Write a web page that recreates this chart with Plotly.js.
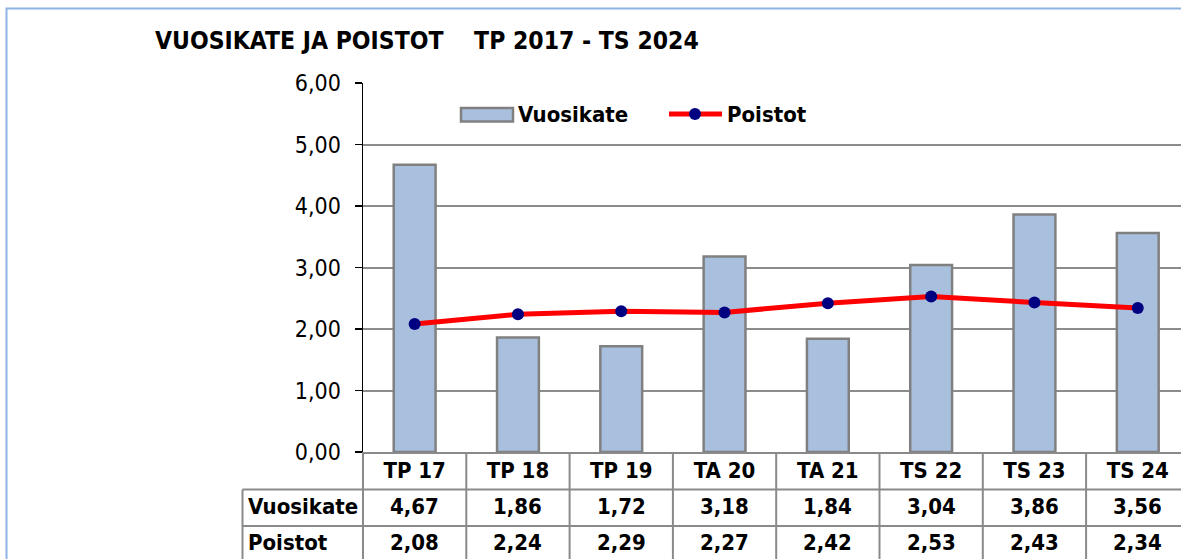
<!DOCTYPE html>
<html>
<head>
<meta charset="utf-8">
<script src="https://cdn.plot.ly/plotly-3.0.1.min.js"></script>
<style>
html,body{margin:0;padding:0;background:#fff;}
#chart{width:1181px;height:559px;}
</style>
</head>
<body>
<div id="chart"></div>
<script>
// ---- data ----
const categories = ['TP 17','TP 18','TP 19','TA 20','TA 21','TS 22','TS 23','TS 24'];
const vuosikate = [4.67, 1.86, 1.72, 3.18, 1.84, 3.04, 3.86, 3.56];
const poistot = [2.08, 2.24, 2.29, 2.27, 2.42, 2.53, 2.43, 2.34];
const seriesNames = ['Vuosikate', 'Poistot'];
const yTicks = [0, 1, 2, 3, 4, 5, 6];
const titleText = 'VUOSIKATE JA POISTOT\u00A0\u00A0\u00A0 TP 2017 - TS 2024';

// ---- layout constants (pixels) ----
const W = 1181, H = 559;
const ML = 363, MT = 83, MB = 107;
const plotW = W - ML, plotH = H - MT - MB;
const colW = 103.3;
const px2x = p => (p - ML) / plotW;          // page x -> paper x
const py2y = p => (H - MB - p) / plotH;      // page y -> paper y

const FONT = '"DejaVu Sans Condensed", "DejaVu Sans", sans-serif';
const fmt = v => v.toFixed(2).replace('.', ',');
const idx = categories.map((_, i) => i);

const gridGray = '#8c8c8c';
const tableGray = '#8a8a8a';

const traces = [
  {
    type: 'bar', name: seriesNames[0], x: idx, y: vuosikate, width: 0.405,
    marker: {color: '#a8c0de', line: {color: '#808080', width: 2.5}},
    showlegend: false, hoverinfo: 'skip'
  },
  {
    type: 'scatter', mode: 'lines+markers', name: seriesNames[1], x: idx, y: poistot,
    line: {color: '#ff0000', width: 5},
    marker: {color: '#000080', size: 12},
    showlegend: false, hoverinfo: 'skip', cliponaxis: false
  }
];

const shapes = [];
const annotations = [];

// outer frame
shapes.push({type: 'rect', xref: 'paper', yref: 'paper',
  x0: px2x(6.5), x1: px2x(W + 20), y0: py2y(H + 20), y1: py2y(8.5),
  line: {color: '#8db4e2', width: 2}, fillcolor: 'rgba(0,0,0,0)', layer: 'below'});

// table rows
const rowLines = [489.5, 526];
rowLines.forEach(p => shapes.push({type: 'line', xref: 'paper', yref: 'paper',
  x0: px2x(242.5), x1: 1.02, y0: py2y(p), y1: py2y(p), line: {color: tableGray, width: 2}}));
// label column left edge
shapes.push({type: 'line', xref: 'paper', yref: 'paper',
  x0: px2x(242.5), x1: px2x(242.5), y0: py2y(489.5), y1: py2y(H + 5), line: {color: tableGray, width: 2}});
// first column left edge (below axis)
shapes.push({type: 'line', xref: 'paper', yref: 'paper',
  x0: 0, x1: 0, y0: 0, y1: py2y(H + 5), line: {color: tableGray, width: 2}});
// column separators
for (let i = 1; i < categories.length; i++) {
  shapes.push({type: 'line', xref: 'x', yref: 'paper',
    x0: i - 0.5, x1: i - 0.5, y0: 0, y1: py2y(H + 5), line: {color: tableGray, width: 2}});
}

// table values
const rowCenters = [506.5, 542];
const rowData = [vuosikate, poistot];
rowData.forEach((arr, r) => {
  annotations.push({xref: 'paper', yref: 'paper', x: px2x(246), y: py2y(rowCenters[r]),
    xanchor: 'left', yanchor: 'middle', showarrow: false, text: '<b>' + seriesNames[r] + '</b>',
    font: {family: FONT, size: 22, color: '#000'}});
  arr.forEach((v, i) => annotations.push({xref: 'x', yref: 'paper', x: i, y: py2y(rowCenters[r]),
    xanchor: 'center', yanchor: 'middle', showarrow: false, text: '<b>' + fmt(v) + '</b>',
    font: {family: FONT, size: 22, color: '#000'}}));
});

// custom legend
shapes.push({type: 'rect', xref: 'paper', yref: 'paper',
  x0: px2x(461), x1: px2x(513), y0: py2y(121.5), y1: py2y(108),
  fillcolor: '#a8c0de', line: {color: '#808080', width: 2.5}});
annotations.push({xref: 'paper', yref: 'paper', x: px2x(516), y: py2y(114), xanchor: 'left', yanchor: 'middle',
  showarrow: false, text: '<b>' + seriesNames[0] + '</b>', font: {family: FONT, size: 22, color: '#000'}});
shapes.push({type: 'line', xref: 'paper', yref: 'paper',
  x0: px2x(669), x1: px2x(722), y0: py2y(114), y1: py2y(114), line: {color: '#ff0000', width: 5}});
shapes.push({type: 'circle', xref: 'paper', yref: 'paper',
  x0: px2x(689), x1: px2x(701), y0: py2y(120), y1: py2y(108), fillcolor: '#000080', line: {width: 0}});
annotations.push({xref: 'paper', yref: 'paper', x: px2x(725), y: py2y(114), xanchor: 'left', yanchor: 'middle',
  showarrow: false, text: '<b>' + seriesNames[1] + '</b>', font: {family: FONT, size: 22, color: '#000'}});

const layout = {
  width: W, height: H,
  margin: {l: ML, r: 0, t: MT, b: MB, pad: 0},
  paper_bgcolor: '#fff', plot_bgcolor: '#fff',
  separators: ', ',
  showlegend: false,
  font: {family: FONT, size: 22, color: '#000'},
  title: {text: '<b>' + titleText + '</b>', xref: 'container', yref: 'container',
    x: 155 / W, xanchor: 'left', y: 1 - 40 / H, yanchor: 'middle',
    font: {family: FONT, size: 24.5, color: '#000'}},
  xaxis: {
    range: [-0.5, -0.5 + plotW / colW],
    tickvals: idx, ticktext: categories.map(c => '<b>' + c + '</b>'),
    ticks: '', showgrid: false, zeroline: false,
    showline: true, linecolor: tableGray, linewidth: 2,
    tickfont: {family: FONT, size: 22, color: '#000'},
    ticklabelstandoff: -2, fixedrange: true
  },
  yaxis: {
    range: [0, 6], tickvals: yTicks, tickformat: '.2f',
    ticks: 'outside', ticklen: 7, tickwidth: 1.5, tickcolor: '#000',
    showline: true, linecolor: '#000', linewidth: 1.5,
    showgrid: true, gridcolor: gridGray, gridwidth: 2, zeroline: false,
    tickfont: {family: FONT, size: 23, color: '#000'},
    ticklabelstandoff: 9, fixedrange: true
  },
  shapes: shapes,
  annotations: annotations
};

Plotly.newPlot('chart', traces, layout, {staticPlot: true, displayModeBar: false});
</script>
</body>
</html>
